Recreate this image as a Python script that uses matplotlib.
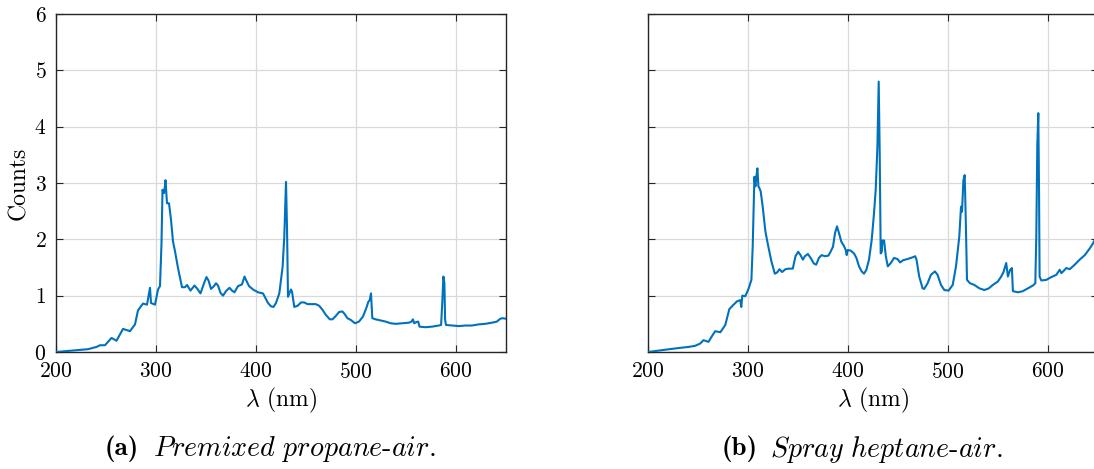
import numpy as np
import matplotlib
matplotlib.use('Agg')
import matplotlib.pyplot as plt

# Emission spectra (wavelength in nm, counts)
lam_a = [200, 219, 232, 240.5, 244, 249, 255.5, 260.5, 267, 274, 279, 282, 287, 291, 294, 295,
         299, 302, 304, 305.5, 306.5, 308, 308.5, 309.5, 311, 313, 315, 317, 319, 322, 326, 329,
         331, 334.5, 338.5, 341, 344.5, 348, 350.5, 352.5, 355, 358, 360, 362, 364.5, 367, 370,
         373.5, 376, 378.5, 382, 386, 388.5, 390, 393, 397, 402, 407, 408.5, 412, 415, 417.5, 420,
         423.3, 426.6, 428.3, 430, 431, 432, 433.3, 435, 436, 438.3, 441.6, 445, 448.2, 451.5,
         454.9, 459.8, 463.2, 466.5, 469.8, 473.8, 476.5, 479.8, 483.1, 486.4, 488.8, 491.4, 494.7,
         499, 503, 507, 510.3, 512.3, 513.7, 515, 516.3, 519.6, 524.6, 529.6, 534.6, 539.6, 546.2,
         552.9, 555.5, 556.9, 558.2, 560.2, 562.2, 563.5, 569.5, 576.1, 582.8, 585.1, 586.4, 587.4,
         588.4, 589.1, 590, 596, 602.7, 609.4, 616, 622.6, 629.3, 635.9, 640.9, 644.2, 646.6, 650]
cnt_a = [0.0, 0.03, 0.05, 0.09, 0.12, 0.12, 0.25, 0.2, 0.41, 0.37, 0.49, 0.74, 0.86, 0.84, 1.14, 0.87,
         0.84, 1.11, 1.17, 1.93, 2.88, 2.82, 2.88, 3.05, 2.64, 2.64, 2.35, 1.96, 1.79, 1.49, 1.15, 1.15,
         1.19, 1.09, 1.18, 1.13, 1.04, 1.22, 1.33, 1.27, 1.12, 1.17, 1.22, 1.18, 1.05, 1.0, 1.08,
         1.14, 1.09, 1.06, 1.17, 1.2, 1.34, 1.28, 1.17, 1.11, 1.06, 1.04, 0.99, 0.87, 0.81, 0.8, 0.87,
         1.04, 1.51, 2.05, 3.02, 2.22, 0.98, 1.04, 1.11, 1.07, 0.8, 0.82, 0.88, 0.88, 0.85,
         0.85, 0.85, 0.82, 0.75, 0.66, 0.58, 0.58, 0.64, 0.71, 0.72, 0.67, 0.6, 0.57,
         0.51, 0.54, 0.63, 0.78, 0.89, 0.92, 1.04, 0.6, 0.58, 0.56, 0.54, 0.51, 0.5, 0.51,
         0.52, 0.54, 0.58, 0.51, 0.53, 0.54, 0.45, 0.44, 0.45, 0.47, 0.48, 0.92, 1.34,
         1.22, 0.57, 0.48, 0.47, 0.46, 0.47, 0.47, 0.49, 0.5, 0.52, 0.54, 0.59, 0.6, 0.59]

lam_b = [200.3, 217, 230.4, 240.5, 247.2, 252.2, 255.5, 260.5, 263.9, 267.2, 272.3, 277.3, 281.3,
         285.6, 289, 292.3, 293.3, 294.3, 297.3, 300.7, 303.4, 304.7, 306.4, 307.4, 308.4, 309.4,
         310.4, 311.4, 312.7, 314.7, 317.4, 320, 323.4, 326.8, 329, 331.5, 334.1, 337.5, 340.8,
         344.8, 347.5, 350.2, 352.5, 354.9, 356.9, 359.9, 362.6, 365.9, 368.2, 370.9, 373.6,
         376.9, 380.3, 382.6, 385, 387, 389, 391, 393.3, 396, 397.7, 398.7, 399.7, 402.7, 406,
         408.4, 411, 413.7, 416, 418.4, 421, 423.7, 426, 427.7, 429.4, 430.7, 431.7, 432.7, 433.8,
         434.4, 436.1, 437.8, 439.8, 442.8, 446.1, 449.5, 452.1, 455.2, 459.5, 464.5, 467.2,
         468.5, 471.2, 474.6, 476.2, 479.6, 482.9, 486.9, 489.6, 493, 496.3, 500.6, 504.7, 508,
         511.3, 513, 514, 515.4, 516.7, 517.7, 519, 522, 526.4, 531.4, 536.4, 540.8, 544.8, 549.8,
         553.2, 555.5, 558.2, 559.9, 562.2, 563.9, 564.9, 569.9, 574.9, 579.9, 584.9, 587.3,
         588.3, 589.3, 590.3, 591, 591.6, 593.3, 598.3, 603.3, 608.3, 611.7, 613.4, 618.4, 621.7,
         626.7, 631.7, 636.8, 641.8, 645.1, 647.5, 650]
cnt_b = [0.0, 0.04, 0.07, 0.09, 0.11, 0.15, 0.21, 0.18, 0.28, 0.37, 0.35, 0.48, 0.76,
         0.84, 0.9, 0.92, 0.8, 1.0, 0.99, 1.13, 1.28, 1.87, 3.11, 2.94, 3.12, 3.26,
         2.94, 2.91, 2.85, 2.58, 2.14, 1.9, 1.61, 1.39, 1.41, 1.47, 1.42, 1.47, 1.48,
         1.48, 1.7, 1.78, 1.72, 1.64, 1.7, 1.74, 1.67, 1.57, 1.55, 1.67, 1.72,
         1.7, 1.71, 1.78, 1.87, 2.11, 2.23, 2.11, 1.96, 1.88, 1.81, 1.72, 1.81, 1.8, 1.75,
         1.67, 1.52, 1.43, 1.39, 1.46, 1.64, 1.99, 2.46, 2.88, 3.64, 4.8, 3.53, 1.75, 1.78,
         1.98, 1.98, 1.7, 1.52, 1.58, 1.67, 1.65, 1.59, 1.63, 1.65, 1.68, 1.7,
         1.64, 1.34, 1.13, 1.12, 1.22, 1.37, 1.43, 1.37, 1.19, 1.1, 1.09, 1.19, 1.52,
         2.05, 2.58, 2.49, 3.05, 3.14, 2.4, 1.28, 1.22, 1.19, 1.13, 1.1, 1.13, 1.19, 1.25,
         1.34, 1.42, 1.58, 1.34, 1.46, 1.49, 1.08, 1.06, 1.08, 1.13, 1.18, 1.22,
         2.05, 3.67, 4.24, 2.94, 1.34, 1.27, 1.28, 1.33, 1.37, 1.46, 1.4, 1.49, 1.47,
         1.55, 1.64, 1.72, 1.84, 1.93, 2.02, 2.06]

xticks = [200, 300, 400, 500, 600]
yticks = [0, 1, 2, 3, 4, 5, 6]
tags = ['(a)', '(b)']
captions = [r'$\mathit{Premixed\ propane}$-$\mathit{air}$.',
            r'$\mathit{Spray\ heptane}$-$\mathit{air}$.']

plt.rcParams['font.family'] = 'cmr10'
plt.rcParams['mathtext.fontset'] = 'cm'
plt.rcParams['axes.formatter.use_mathtext'] = True

blue = '#0072BD'

fig = plt.figure(figsize=(10.94, 4.69), dpi=100)
W, H = 1094, 469
ax1 = fig.add_axes([56/W, 1 - 352/H, 450/W, 338/H])
ax2 = fig.add_axes([648/W, 1 - 352/H, 450/W, 338/H])

for ax, lam, cnt in [(ax1, lam_a, cnt_a), (ax2, lam_b, cnt_b)]:
    ax.plot(lam, cnt, color=blue, lw=1.5, zorder=3)
    ax.set_xlim(200, 650)
    ax.set_ylim(0, 6)
    ax.set_xticks(xticks)
    ax.set_yticks(yticks)
    ax.grid(True, color='#d9d9d9', lw=0.9)
    ax.set_axisbelow(True)
    ax.tick_params(direction='in', length=5, width=0.8, top=True, right=True,
                   labelsize=15.5, pad=7, colors='#262626', labelcolor='black')
    for s in ax.spines.values():
        s.set_linewidth(1.0)
        s.set_color('#262626')
    ax.set_xlabel(r'$\lambda$ (nm)', fontsize=17, labelpad=3)

ax1.set_ylabel('Counts', fontsize=17, labelpad=3)
ax2.set_yticklabels([])

# sub-captions: bold tag followed by italic description
for x0, tag, cap in [(105, tags[0], captions[0]), (722, tags[1], captions[1])]:
    fig.text(x0/W, 1 - 449/H, tag, fontsize=19.5, family='cmb10', ha='left', va='center')
    fig.text((x0 + 48)/W, 1 - 449/H, cap, fontsize=20.2, ha='left', va='center')

fig.savefig('out.png', dpi=100)
